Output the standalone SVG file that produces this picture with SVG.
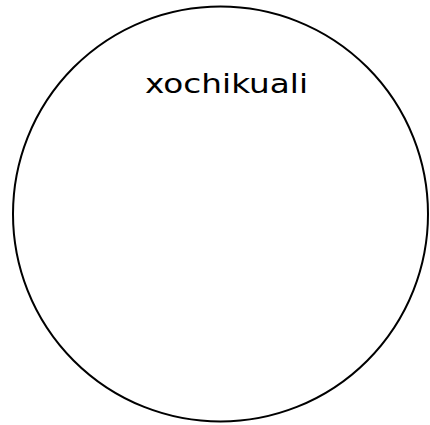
<svg xmlns="http://www.w3.org/2000/svg" width="430" height="425" viewBox="0 0 430 425">
<style>
.node{fill:#fff;stroke:#000;stroke-width:2}
.label{font-family:"DejaVu Sans","Liberation Sans",sans-serif;font-size:27px;fill:#000}
</style>
<rect width="430" height="425" fill="#fff"/>
<g id="node-xochikuali">
<circle class="node" cx="220.5" cy="214" r="207.5"/>
<text class="label" x="145" y="93" textLength="163" lengthAdjust="spacingAndGlyphs">xochikuali</text>
</g>
<g id="connectors"/>
</svg>
